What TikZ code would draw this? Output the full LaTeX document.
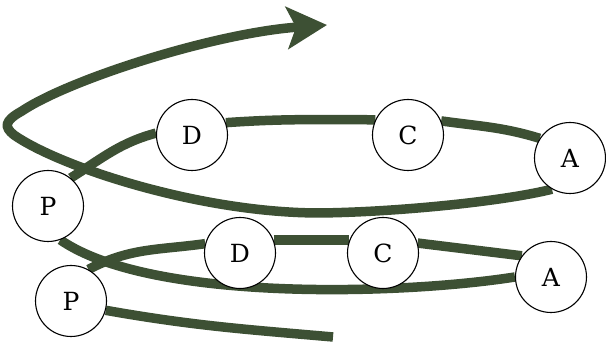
\documentclass[tikz,border=0pt]{standalone}
\usepackage{fontspec}
\setmainfont{DejaVu Serif}
\usetikzlibrary{arrows.meta,backgrounds}
\definecolor{coil}{RGB}{61,80,52}
\begin{document}
\begin{tikzpicture}[x=1pt,y=1pt,
  site/.style={circle,draw=black,line width=1.1pt,fill=white,minimum size=71pt,inner sep=0pt,font=\fontsize{25}{29}\selectfont},
  coilline/.style={draw=coil,line width=9.5pt}]
\useasboundingbox (0,0) rectangle (606,347);

% upper turn of the coil
\node[site] (P1) at (48,141) {P};
\node[site] (D1) at (192,212) {D};
\node[site] (C1) at (408,212) {C};
\node[site] (A1) at (570,189) {A};

% lower turn of the coil
\node[site] (P2) at (71,46) {P};
\node[site] (D2) at (240,94) {D};
\node[site] (C2) at (383,94) {C};
\node[site] (A2) at (551,70) {A};

\coordinate (tail) at (333,10);
\coordinate (tip) at (327,322);

\begin{pgfonlayer}{background}
  % lower turn
  \draw[coilline] (P2.-15) to[out=-10,in=175] (tail);
  \draw[coilline] (P2.61) to[out=28,in=188] (D2.165);
  \draw[coilline] (D2.21) -- (C2.159);
  \draw[coilline] (C2.16) -- (A2.144);
  \draw[coilline] (A2.180) .. controls (400,52) and (150,45) .. (P1.-70);
  % upper turn
  \draw[coilline] (P1.51) to[out=32,in=195] (D1.177);
  \draw[coilline] (D1.20) to[out=4,in=180] (C1.155);
  \draw[coilline] (C1.23) to[out=-8,in=163] (A1.147);
  % return sweep ending in the arrow
  \draw[coilline,-{Stealth[length=40pt,width=42pt,inset=9pt]}]
    (A1.240) .. controls (505,146) and (400,135) .. (320,134)
    .. controls (200,134) and (60,180) .. (14,212)
    .. controls (4,220) and (4,226) .. (22,236)
    .. controls (70,268) and (215,314) .. (tip);
\end{pgfonlayer}
\end{tikzpicture}
\end{document}
